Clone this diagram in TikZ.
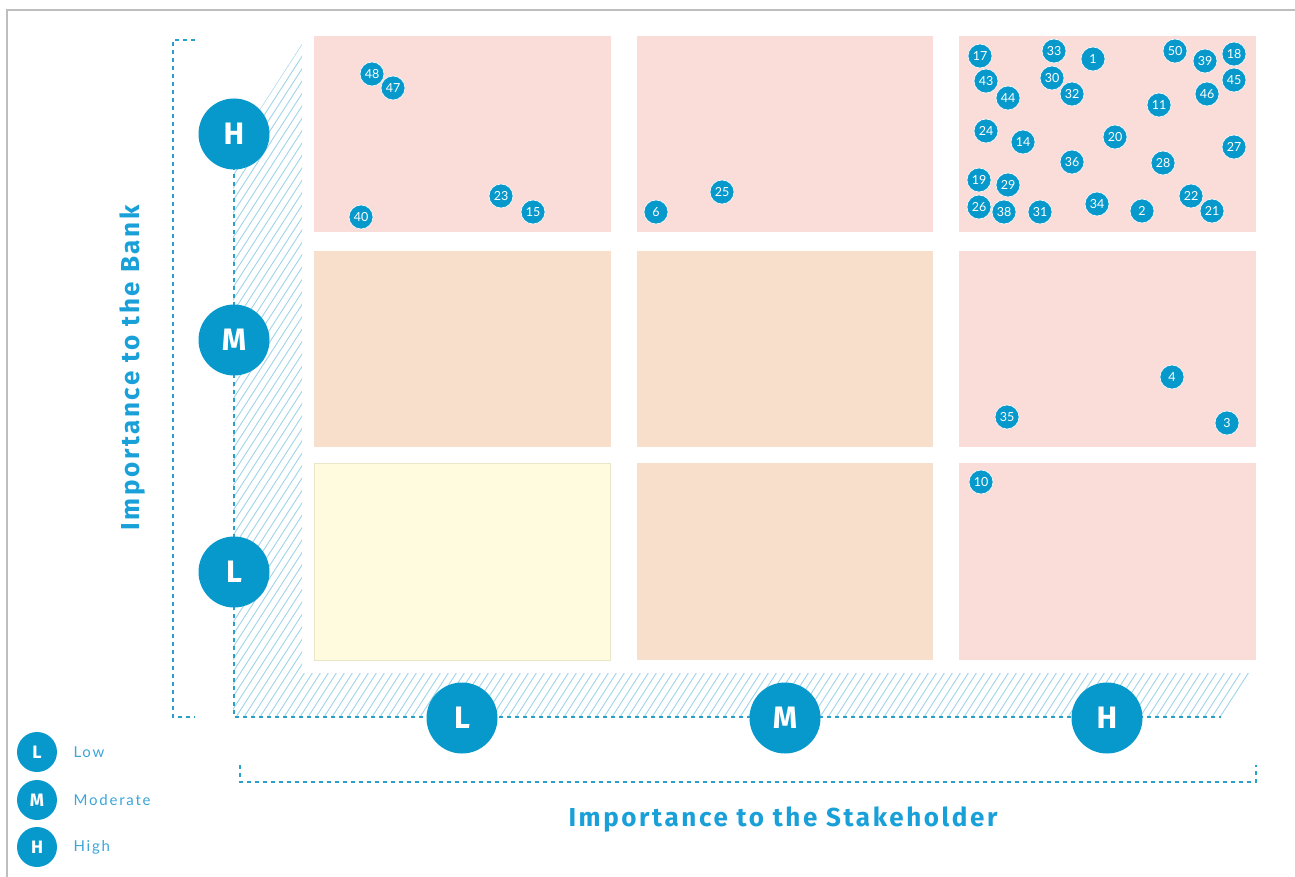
\documentclass[tikz,border=0pt]{standalone}
\usepackage{fontspec}
\newfontfamily\numfont{Lato}
\newfontfamily\headfont{Fira Sans}
\newfontfamily\legfont{Lato}[LetterSpace=12]
\newfontfamily\titlefont{Fira Sans}[LetterSpace=10]
\definecolor{bub}{RGB}{8,153,204}
\definecolor{pinkc}{RGB}{250,220,216}
\definecolor{peachc}{RGB}{248,223,204}
\definecolor{yellc}{RGB}{254,251,222}
\definecolor{yellb}{RGB}{236,230,200}
\definecolor{hatchc}{RGB}{160,212,232}
\definecolor{dashc}{RGB}{40,160,200}
\definecolor{titlec}{RGB}{26,160,216}
\definecolor{legc}{RGB}{60,166,216}
\definecolor{framec}{RGB}{190,190,190}
\tikzset{
  bubble/.style={circle, fill=bub, draw=white, line width=0.6pt, minimum size=24pt, inner sep=0pt, text=white, font=\numfont\fontsize{12.5}{12.5}\selectfont},
  bigc/.style={circle, fill=bub, minimum size=71pt, inner sep=0pt, text=white, font=\headfont\bfseries\fontsize{31}{31}\selectfont},
  legc/.style={circle, fill=bub, minimum size=40pt, inner sep=0pt, text=white, font=\headfont\bfseries\fontsize{18}{18}\selectfont},
  legt/.style={anchor=west, text=legc, font=\legfont\fontsize{15}{15}\selectfont},
  hatchline/.style={draw=hatchc, line width=0.9pt},
  dashline/.style={draw=dashc, line width=1.6pt, dash pattern=on 4pt off 4pt},
  axtitle/.style={text=titlec, font=\titlefont\bfseries\fontsize{26}{26}\selectfont}
}
\begin{document}
\begin{tikzpicture}[x=1pt,y=-1pt]
\useasboundingbox (0,0) rectangle (1295,877);
\fill[white] (0,0) rectangle (1295,877);
% frame
\draw[framec, line width=1.6pt] (7,880) -- (7,10) -- (1300,10);
% cells
\fill[pinkc]  (314,36) rectangle (611,232);
\fill[pinkc]  (637,36) rectangle (933,232);
\fill[pinkc]  (959,36) rectangle (1256,232);
\fill[peachc] (314,251) rectangle (611,447);
\fill[peachc] (637,251) rectangle (933,447);
\fill[pinkc]  (959,251) rectangle (1256,447);
\filldraw[fill=yellc, draw=yellb, line width=1pt] (314.5,463.5) rectangle (610.5,660);
\fill[peachc] (637,463) rectangle (933,660);
\fill[pinkc]  (959,463) rectangle (1256,660);
% hatch band
\begin{scope}
\clip (302,44) -- (302,673) -- (1250,673) -- (1221,717) -- (233,717) -- (233,151) -- cycle;
\foreach \i in {0,...,176} {
  \draw[hatchline] ({-140+8*\i},717) -- ++(434,-673);
}
\end{scope}
% axis coordinates
\coordinate (yH) at (234,134);
\coordinate (yM) at (234,340);
\coordinate (yL) at (234,572);
\coordinate (xL) at (462,718);
\coordinate (xM) at (785,718);
\coordinate (xH) at (1107,718);
\coordinate (corner) at (234,717);
\coordinate (xend) at (1221,717);
\draw[dashline] (yH) -- (corner) -- (xend);
% outer brackets
\coordinate (lb1) at (195,40);
\coordinate (lb2) at (173,40);
\coordinate (lb3) at (173,717);
\coordinate (lb4) at (195,717);
\draw[dashline] (lb1) -- (lb2) -- (lb3) -- (lb4);
\coordinate (bb1) at (240,765);
\coordinate (bb2) at (240,782);
\coordinate (bb3) at (1256,782);
\coordinate (bb4) at (1256,765);
\draw[dashline] (bb1) -- (bb2) -- (bb3) -- (bb4);
% big circles
\node[bigc] (cyH) at (yH) {H};
\node[bigc] (cyM) at (yM) {M};
\node[bigc] (cyL) at (yL) {L};
\node[bigc] (cxL) at (xL) {L};
\node[bigc] (cxM) at (xM) {M};
\node[bigc] (cxH) at (xH) {H};
% axis titles
\node[axtitle, rotate=90] (tbank) at (133,368) {Importance to the Bank};
\node[axtitle] (tstake) at (783,820) {Importance to the Stakeholder};
% legend
\node[legc] (lL) at (37,752) {L};
\node[legc] (lM) at (37,800) {M};
\node[legc] (lH) at (37,847) {H};
\node[legt] (tL) at (70,752) {Low};
\node[legt] (tM) at (70,800) {Moderate};
\node[legt] (tH) at (70,847) {High};
% bubbles
\foreach \n/\x/\y in {17/980/56, 33/1054/51, 1/1093/59, 50/1175/51, 39/1205/61, 18/1234/54,
  43/986/81, 30/1052/78, 44/1008/98, 32/1072/94, 11/1159/105, 46/1207/94, 45/1234/80,
  24/986/131, 14/1023/142, 20/1115/137, 27/1234/147, 36/1072/162, 28/1163/163,
  19/979/180, 29/1008/185, 26/979/207, 38/1004/212, 31/1040/212, 34/1097/204,
  2/1142/211, 22/1191/196, 21/1212/211,
  48/372/74, 47/393/88, 40/361/217, 23/501/196, 15/533/212,
  6/656/212, 25/722/192,
  4/1172/377, 35/1007/417, 3/1227/423, 10/981/482} {
  \node[bubble] (b\n) at (\x,\y) {\n};
}
\end{tikzpicture}
\end{document}
